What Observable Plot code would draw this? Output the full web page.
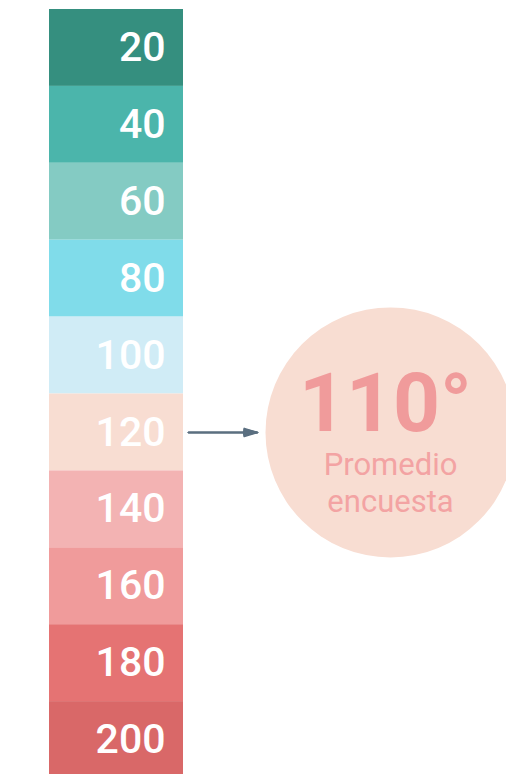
<!DOCTYPE html>
<html>
<head>
<meta charset="utf-8">
<script src="https://cdn.jsdelivr.net/npm/d3@7"></script>
<script src="https://cdn.jsdelivr.net/npm/@observablehq/plot@0.6"></script>
<style>
  html, body { margin: 0; padding: 0; background: #fff; overflow: hidden; }
  svg { overflow: hidden; }
</style>
</head>
<body>
<div id="chart"></div>
<script>
// Data
const levels = [20, 40, 60, 80, 100, 120, 140, 160, 180, 200];
const levelColors = ["#358f7f", "#4bb5ab", "#84cbc3", "#80dcea", "#d0ecf6",
                     "#f8ddd2", "#f3b3b3", "#f09b9b", "#e57373", "#d96868"];
const average = 110;          // "Promedio encuesta"
const pointedLevel = 120;     // level the arrow points to
const avgLabel = "110°";
const avgLines = ["Promedio", "encuesta"];

const step = 20;
const table = levels.map((v, i) => ({v, color: levelColors[i], label: String(v)}));

// Layout (pixels)
const W = 506, H = 774;
const barLeft = 49, barRight = 183, labelRight = 165;
const arrowFrom = 188, arrowTo = 257;
const circleX = 390, circleR = 125;
const headAngles = [34, 26, 18, 10, 4];

const arrowMarks = headAngles.map(a => Plot.arrow([pointedLevel], {
  x1: arrowFrom, x2: arrowTo, y1: d => d, y2: d => d,
  stroke: "#5b6f80", strokeWidth: 1.6, headLength: 13, headAngle: a
}));

const plot = Plot.plot({
  width: W,
  height: H,
  margin: 0,
  x: {type: "linear", domain: [0, W], range: [0, W], axis: null},
  y: {type: "linear", domain: [levels[0] - step / 2, levels[levels.length - 1] + step / 2], range: [9, 778], axis: null},
  style: {fontFamily: "Roboto, 'Noto Sans', sans-serif", background: "#fff"},
  marks: [
    Plot.rect(table, {
      x1: barLeft, x2: barRight,
      y1: d => d.v - step / 2, y2: d => d.v + step / 2,
      fill: d => d.color
    }),
    Plot.text(table, {
      x: labelRight, y: "v", text: "label",
      textAnchor: "end", fill: "#fff", fontSize: 41, fontWeight: 500
    }),
    ...arrowMarks,
    Plot.dot([pointedLevel], {
      x: circleX, y: d => d, r: circleR, fill: "#f8ddd2", stroke: null
    }),
    Plot.text([avgLabel], {
      x: circleX - 5, y: () => pointedLevel, text: d => d,
      lineAnchor: "bottom", dy: -1,
      fill: "#f09b9b", fontSize: 82, fontWeight: 700
    }),
    Plot.text([avgLines[0]], {
      x: circleX, y: () => pointedLevel, text: d => d,
      lineAnchor: "bottom", dy: 43,
      fill: "#f3a3a3", fontSize: 31, fontWeight: 400
    }),
    Plot.text([avgLines[1]], {
      x: circleX, y: () => pointedLevel, text: d => d,
      lineAnchor: "bottom", dy: 80,
      fill: "#f3a3a3", fontSize: 31, fontWeight: 400
    })
  ]
});
document.getElementById("chart").appendChild(plot);
</script>
</body>
</html>
